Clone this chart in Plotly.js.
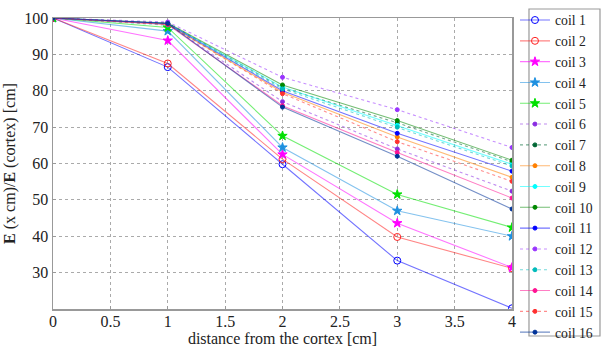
<!DOCTYPE html>
<html>
<head>
<meta charset="utf-8">
<script src="https://cdn.plot.ly/plotly-3.0.1.min.js"></script>
<style>html,body{margin:0;padding:0;background:#fff;}#chart{width:602px;height:347px;}</style>
</head>
<body>
<div id="chart"></div>
<script>
const distance = [0, 1, 2, 3, 4];
const coilNames = ["coil 1","coil 2","coil 3","coil 4","coil 5","coil 6","coil 7","coil 8","coil 9","coil 10","coil 11","coil 12","coil 13","coil 14","coil 15","coil 16"];
const coil1  = [100, 86.5, 59.8, 33.3, 20.2];
const coil2  = [100, 87.5, 61.2, 39.8, 31.2];
const coil3  = [100, 93.8, 62.5, 43.6, 31.4];
const coil4  = [100, 96.4, 64.4, 47.0, 40.0];
const coil5  = [100, 97.4, 67.6, 51.5, 42.4];
const coil6  = [100, 98.3, 77.0, 64.0, 52.4];
const coil7  = [100, 98.6, 80.8, 71.2, 60.5];
const coil8  = [100, 98.2, 79.6, 67.3, 56.2];
const coil9  = [100, 98.4, 81.0, 70.5, 59.8];
const coil10 = [100, 98.6, 81.6, 71.8, 60.9];
const coil11 = [100, 98.5, 80.0, 68.3, 57.9];
const coil12 = [100, 98.9, 83.7, 74.8, 64.4];
const coil13 = [100, 98.0, 80.5, 70.0, 59.3];
const coil14 = [100, 98.2, 75.9, 63.0, 50.5];
const coil15 = [100, 98.3, 79.2, 66.0, 55.1];
const coil16 = [100, 98.5, 75.5, 62.0, 47.5];
const yTicks = [30, 40, 50, 60, 70, 80, 90, 100];
const xTicks = [0, 0.5, 1, 1.5, 2, 2.5, 3, 3.5, 4];

const series = [coil1,coil2,coil3,coil4,coil5,coil6,coil7,coil8,coil9,coil10,coil11,coil12,coil13,coil14,coil15,coil16];
const colors = ["#0000ff","#ff2020","#ff00ff","#1e90e0","#00e000","#8a2be2","#006633","#ff8000","#00ffff","#008800","#0000ff","#9933ff","#00bbbb","#ff1493","#ff3030","#003399"];
const symbols = ["circle-open","circle-open","star","star","star","circle","circle","circle","circle","circle","circle","circle","circle","circle","circle","circle"];
const sizes = [7,7,7,7,7,4,4,4,4,4,4,4,4,4,4,4];
const dashes = ["solid","solid","solid","solid","solid","dot","dot","solid","solid","solid","solid","dot","dot","solid","dot","solid"];

function rgba(hex, a){
  const r=parseInt(hex.slice(1,3),16), g=parseInt(hex.slice(3,5),16), b=parseInt(hex.slice(5,7),16);
  return `rgba(${r},${g},${b},${a})`;
}

const traces = series.map((s,i)=>({
  x: distance, y: s, name: coilNames[i], type: 'scatter', mode: 'lines+markers',
  line: {color: rgba(colors[i],0.55), width: 1.1, dash: dashes[i]},
  marker: {color: colors[i], symbol: symbols[i], size: sizes[i], line:{color: colors[i], width: 1}}
}));

const fam = 'Liberation Serif, DejaVu Serif, serif';
const layout = {
  width: 602, height: 347,
  margin: {l: 53, r: 90, t: 18, b: 38, autoexpand: false},
  paper_bgcolor: '#fff', plot_bgcolor: '#fff',
  font: {family: fam, color: '#222', size: 16},
  showlegend: true,
  legend: {x: 1.0065, xanchor: 'left', y: 1.046, yanchor: 'top', maxheight: 345,
    borderwidth: 0, bgcolor: 'rgba(0,0,0,0)',
    font: {family: fam, color: '#222', size: 13.7}, tracegroupgap: 0, itemwidth: 30},
  shapes: [{type: 'rect', xref: 'paper', yref: 'paper', x0: 1.037, x1: 1.1917, y0: -0.0928, y1: 1.031,
    line: {color: '#999', width: 1.2}, fillcolor: 'rgba(0,0,0,0)', layer: 'below'}],
  xaxis: {range: [0, 4], tickvals: xTicks, ticktext: xTicks.map(String),
    showgrid: true, gridcolor: '#aaa', griddash: 'dot', gridwidth: 1,
    showline: true, linecolor: '#999', linewidth: 1.5, mirror: true,
    zeroline: false, ticks: 'inside', ticklen: 3, tickcolor: '#999', ticklabelstandoff: -3,
    tickfont: {family: fam, color: '#222', size: 16},
    title: {text: 'distance from the cortex [cm]', font: {family: fam, color: '#222', size: 16}, standoff: 4}},
  yaxis: {range: [20, 100], tickvals: yTicks, ticktext: yTicks.map(String),
    showgrid: true, gridcolor: '#aaa', griddash: 'dot', gridwidth: 1,
    showline: true, linecolor: '#999', linewidth: 1.5, mirror: true,
    zeroline: false, ticks: 'inside', ticklen: 3, tickcolor: '#999',
    tickfont: {family: fam, color: '#222', size: 16},
    title: {text: '<b>E</b> (x cm)/<b>E</b> (cortex) [cm]', font: {family: fam, color: '#222', size: 16}, standoff: 4}}
};
Plotly.newPlot('chart', traces, layout, {displayModeBar: false, staticPlot: true});
</script>
</body>
</html>
